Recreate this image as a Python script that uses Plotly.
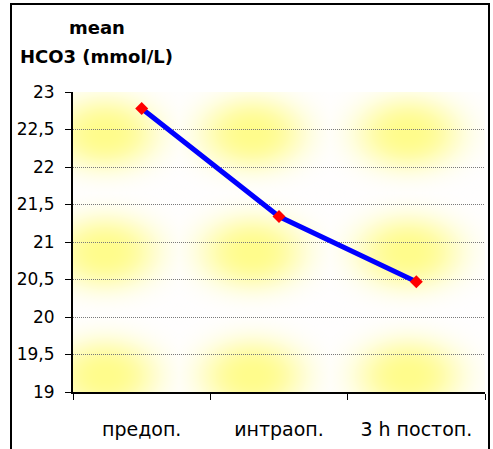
import base64
import struct
import zlib

import numpy as np
import plotly.graph_objects as go

# ---- data ----
categories = ["предоп.", "интраоп.", "3 h постоп."]
hco3_mean = [22.78, 21.34, 20.47]
y_tick_values = [19, 19.5, 20, 20.5, 21, 21.5, 22, 22.5, 23]
title_line1 = "mean"
title_line2 = "HCO3 (mmol/L)"

# ---- figure geometry ----
W, H = 493, 449
ML, MR, MT, MB = 73, 8, 92, 57
PW, PH = W - ML - MR, H - MT - MB


def px_x(px):
    return (px - ML) / PW


def px_y(py):
    return (H - MB - py) / PH


# ---- decorative yellow texture for the plot area (PNG built in memory) ----
def texture_png(w, h):
    yy, xx = np.mgrid[0:h, 0:w].astype(float)
    t = np.zeros((h, w))
    cols = [105 - ML, 252 - ML, 408 - ML]
    rows = [133 - MT, 252 - MT, 375 - MT]
    for cy in rows:
        for cx in cols:
            d2 = ((xx - cx) / 52.0) ** 2 + ((yy - cy) / 36.0) ** 2
            t = np.maximum(t, np.exp(-d2 ** 1.3))
    white = np.array([255, 255, 255], float)
    yellow = np.array([255, 252, 140], float)
    img = white[None, None, :] * (1 - t[..., None]) + yellow[None, None, :] * t[..., None]
    img = np.clip(img, 0, 255).astype(np.uint8)
    raw = b"".join(b"\x00" + img[r].tobytes() for r in range(h))

    def chunk(tag, data):
        c = struct.pack(">I", len(data)) + tag + data
        return c + struct.pack(">I", zlib.crc32(tag + data) & 0xFFFFFFFF)

    png = b"\x89PNG\r\n\x1a\n"
    png += chunk(b"IHDR", struct.pack(">IIBBBBB", w, h, 8, 2, 0, 0, 0))
    png += chunk(b"IDAT", zlib.compress(raw, 9))
    png += chunk(b"IEND", b"")
    return "data:image/png;base64," + base64.b64encode(png).decode()


fig = go.Figure()
fig.add_trace(
    go.Scatter(
        x=categories,
        y=hco3_mean,
        mode="lines+markers",
        line=dict(color="#0000FF", width=5),
        marker=dict(symbol="diamond", size=10, color="#FF0000"),
        showlegend=False,
        hoverinfo="skip",
    )
)

fig.update_layout(
    width=W,
    height=H,
    margin=dict(l=ML, r=MR, t=MT, b=MB, pad=0),
    paper_bgcolor="white",
    plot_bgcolor="white",
    separators=", ",
    font=dict(family="DejaVu Sans", color="black"),
    images=[
        dict(
            source=texture_png(PW, PH),
            xref="paper",
            yref="paper",
            x=0,
            y=1,
            sizex=1,
            sizey=1,
            xanchor="left",
            yanchor="top",
            sizing="stretch",
            layer="below",
        )
    ],
    shapes=[
        dict(
            type="rect",
            xref="paper",
            yref="paper",
            x0=px_x(11),
            x1=px_x(489),
            y0=px_y(470),
            y1=px_y(4),
            line=dict(color="black", width=2),
            fillcolor="rgba(0,0,0,0)",
            layer="above",
        )
    ],
    annotations=[
        dict(
            text="<b>" + title_line1 + "</b>",
            xref="paper",
            yref="paper",
            x=px_x(97),
            y=px_y(28),
            xanchor="center",
            yanchor="middle",
            showarrow=False,
            font=dict(family="DejaVu Sans", size=18, color="black"),
        ),
        dict(
            text="<b>" + title_line2 + "</b>",
            xref="paper",
            yref="paper",
            x=px_x(96),
            y=px_y(57),
            xanchor="center",
            yanchor="middle",
            showarrow=False,
            font=dict(family="DejaVu Sans", size=18, color="black"),
        ),
    ],
)

fig.update_xaxes(
    type="category",
    range=[-0.5, len(categories) - 0.5],
    showgrid=False,
    showline=True,
    linecolor="black",
    linewidth=2,
    ticks="outside",
    tickson="boundaries",
    ticklen=6,
    tickwidth=1,
    tickcolor="black",
    ticklabelstandoff=19,
    tickfont=dict(family="DejaVu Sans", size=19, color="black"),
    fixedrange=True,
)

fig.update_yaxes(
    range=[19, 23],
    tickmode="array",
    tickvals=y_tick_values,
    showgrid=True,
    gridcolor="#7a7a7a",
    griddash="1px,1px",
    gridwidth=1,
    zeroline=False,
    showline=True,
    linecolor="black",
    linewidth=2,
    ticks="outside",
    ticklen=6,
    tickwidth=1,
    tickcolor="black",
    ticklabelstandoff=7,
    tickfont=dict(family="DejaVu Sans", size=17, color="black"),
    fixedrange=True,
)

fig.write_html("out.html")
